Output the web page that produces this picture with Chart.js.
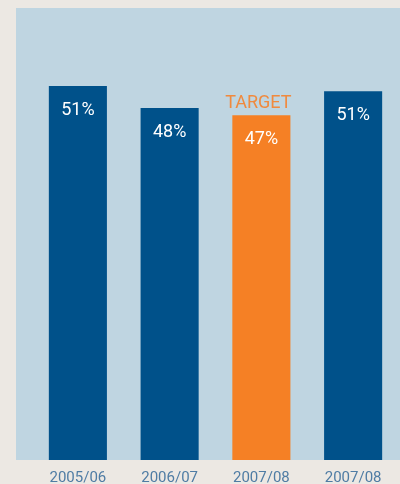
<!DOCTYPE html>
<html><head><meta charset="utf-8">
<script src="https://cdn.jsdelivr.net/npm/chart.js@4"></script>
<style>html,body{margin:0;padding:0;background:#ece8e3;}#wrap{width:400px;height:484px;}</style>
</head><body><div id="wrap"><canvas id="c" width="400" height="484"></canvas></div>
<script>
const categories = ["2005/06", "2006/07", "2007/08", "2007/08"];
const values = [51, 48, 47, 50.3];
const valueLabels = ["51%", "48%", "47%", "51%"];
const barColors = ["#00518a", "#00518a", "#f58025", "#00518a"];
const annotations = ["", "", "TARGET", ""];

const bgPlugin = {
  id: 'bg',
  beforeDraw(chart) {
    const {ctx, chartArea} = chart;
    ctx.save();
    ctx.fillStyle = '#ece8e3';
    ctx.fillRect(0, 0, chart.width, chart.height);
    ctx.fillStyle = '#bfd5e1';
    ctx.fillRect(16, chartArea.top, chart.width - 16, chartArea.bottom - chartArea.top);
    ctx.restore();
  }
};
const labelPlugin = {
  id: 'lbl',
  afterDatasetsDraw(chart) {
    const {ctx} = chart;
    const meta = chart.getDatasetMeta(0);
    ctx.save();
    ctx.textAlign = 'center';
    ctx.textBaseline = 'middle';
    meta.data.forEach((bar, i) => {
      ctx.font = '400 18px Roboto';
      ctx.fillStyle = '#ffffff';
      ctx.fillText(valueLabels[i], bar.x, bar.y + 24);
      if (annotations[i]) {
        ctx.fillStyle = '#f08a3e';
        ctx.fillText(annotations[i], bar.x - 3, bar.y - 12);
      }
    });
    ctx.restore();
  }
};

new Chart(document.getElementById('c'), {
  type: 'bar',
  data: {
    labels: categories,
    datasets: [{ data: values, backgroundColor: barColors, barPercentage: 0.633, categoryPercentage: 1 }]
  },
  options: {
    responsive: false,
    animation: false,
    devicePixelRatio: 1,
    layout: { padding: { left: 32, right: 1, top: 8, bottom: 0 } },
    plugins: { legend: { display: false }, tooltip: { enabled: false } },
    scales: {
      y: { display: false, min: 0, max: 61.64 },
      x: {
        grid: { display: false, drawTicks: false, tickLength: 0 },
        border: { display: false },
        afterFit(scale) { scale.height = 24; },
        ticks: { color: '#4f7ca4', font: { family: 'Roboto', size: 15, lineHeight: 1 }, padding: 11, maxRotation: 0 }
      }
    }
  },
  plugins: [bgPlugin, labelPlugin]
});
</script></body></html>
